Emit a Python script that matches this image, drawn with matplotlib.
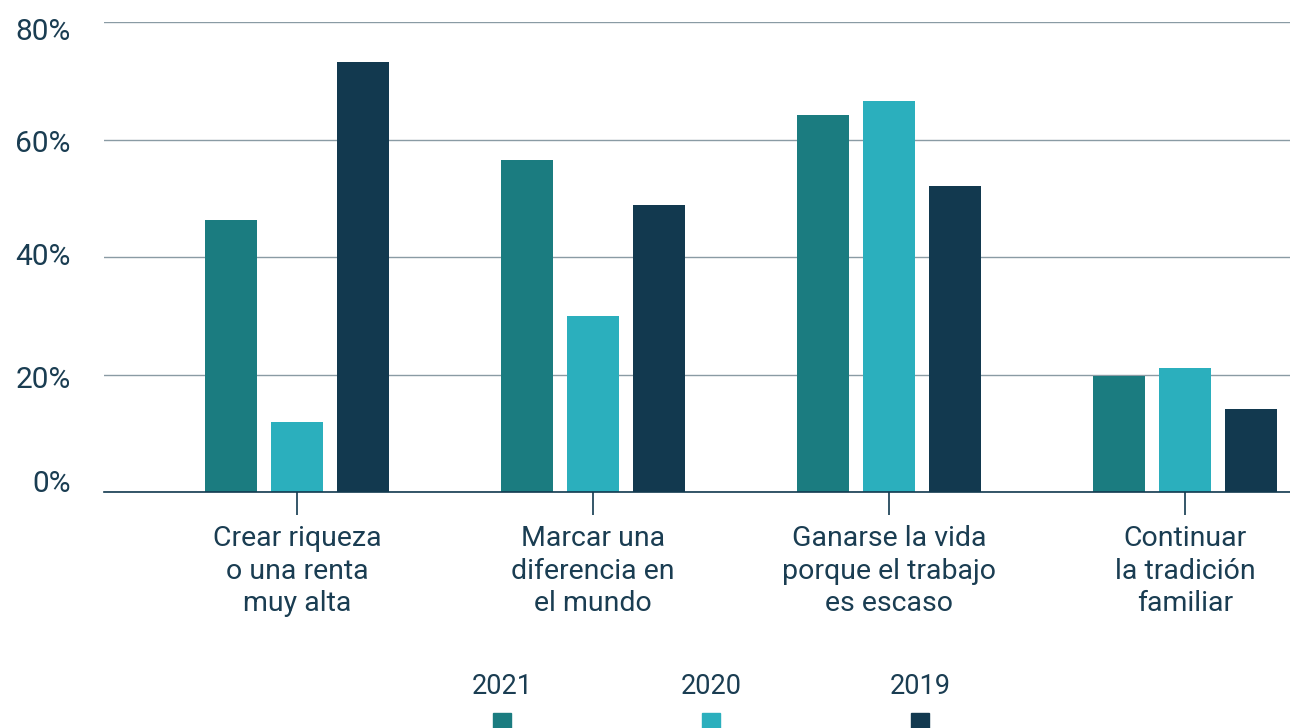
import numpy as np
import matplotlib
matplotlib.use('Agg')
import matplotlib.pyplot as plt
import matplotlib.transforms as mtransforms
from matplotlib.patches import Rectangle

plt.rcParams['font.family'] = ['Roboto', 'DejaVu Sans']

categories = ['Crear riqueza\no una renta\nmuy alta',
              'Marcar una\ndiferencia en\nel mundo',
              'Ganarse la vida\nporque el trabajo\nes escaso',
              'Continuar\nla tradición\nfamiliar']
years = ['2021', '2020', '2019']
v2021 = [46.3, 56.5, 64.2, 19.7]
v2020 = [11.9, 30.0, 66.6, 21.1]
v2019 = [73.2, 48.9, 52.1, 14.1]
yticks = [0, 20, 40, 60, 80]

colors = ['#1b7c80', '#2bafbd', '#12394f']
txt = '#1a3d52'

fig = plt.figure(figsize=(12.9, 7.28), dpi=100)
ax = fig.add_axes([104/1290, 1 - 492/728, 1 - 104/1290, (492 - 22)/728])

x = np.arange(len(categories))
w = 0.176
off = 0.223
for i, vals in enumerate([v2021, v2020, v2019]):
    ax.bar(x + (i - 1) * off, vals, width=w, color=colors[i], zorder=3)

ax.set_xlim(-0.652, 3.355)
ax.set_ylim(0, 80)
ax.set_yticks(yticks)
ax.set_yticklabels([f'{t}%' for t in yticks])
ax.yaxis.grid(True, color='#8a9ba4', linewidth=1, zorder=0)
ax.set_axisbelow(True)
for s in ['top', 'right', 'left']:
    ax.spines[s].set_visible(False)
ax.spines['bottom'].set_color('#12394f')
ax.spines['bottom'].set_linewidth(1.2)
ax.spines['bottom'].set_zorder(4)

ax.set_xticks(x)
ax.set_xticklabels(categories, linespacing=1.28)
ax.tick_params(axis='x', length=16.5, width=1.2, color='#12394f', pad=7,
               labelsize=20.5, labelcolor=txt)
ax.tick_params(axis='y', length=0, pad=24, labelsize=21.5, labelcolor=txt)

# the y labels sit a little off their gridlines in the original
shift_px = [11, -3, 3, -2, -7]
for lab, dy in zip(ax.get_yticklabels(), shift_px):
    lab.set_transform(lab.get_transform() +
                      mtransforms.ScaledTranslation(0, dy / 100, fig.dpi_scale_trans))

# legend: year label above small colour square
lx = [502, 711, 920]
for i, yr in enumerate(years):
    fig.text(lx[i] / 1290, 1 - 686 / 728, yr, ha='center', va='center',
             fontsize=19.5, color=txt)
    sq = 18
    fig.patches.append(Rectangle(((lx[i] - sq / 2) / 1290, 1 - (713 + sq) / 728),
                                 sq / 1290, sq / 728, transform=fig.transFigure,
                                 color=colors[i]))

fig.savefig('out.png', dpi=100)
